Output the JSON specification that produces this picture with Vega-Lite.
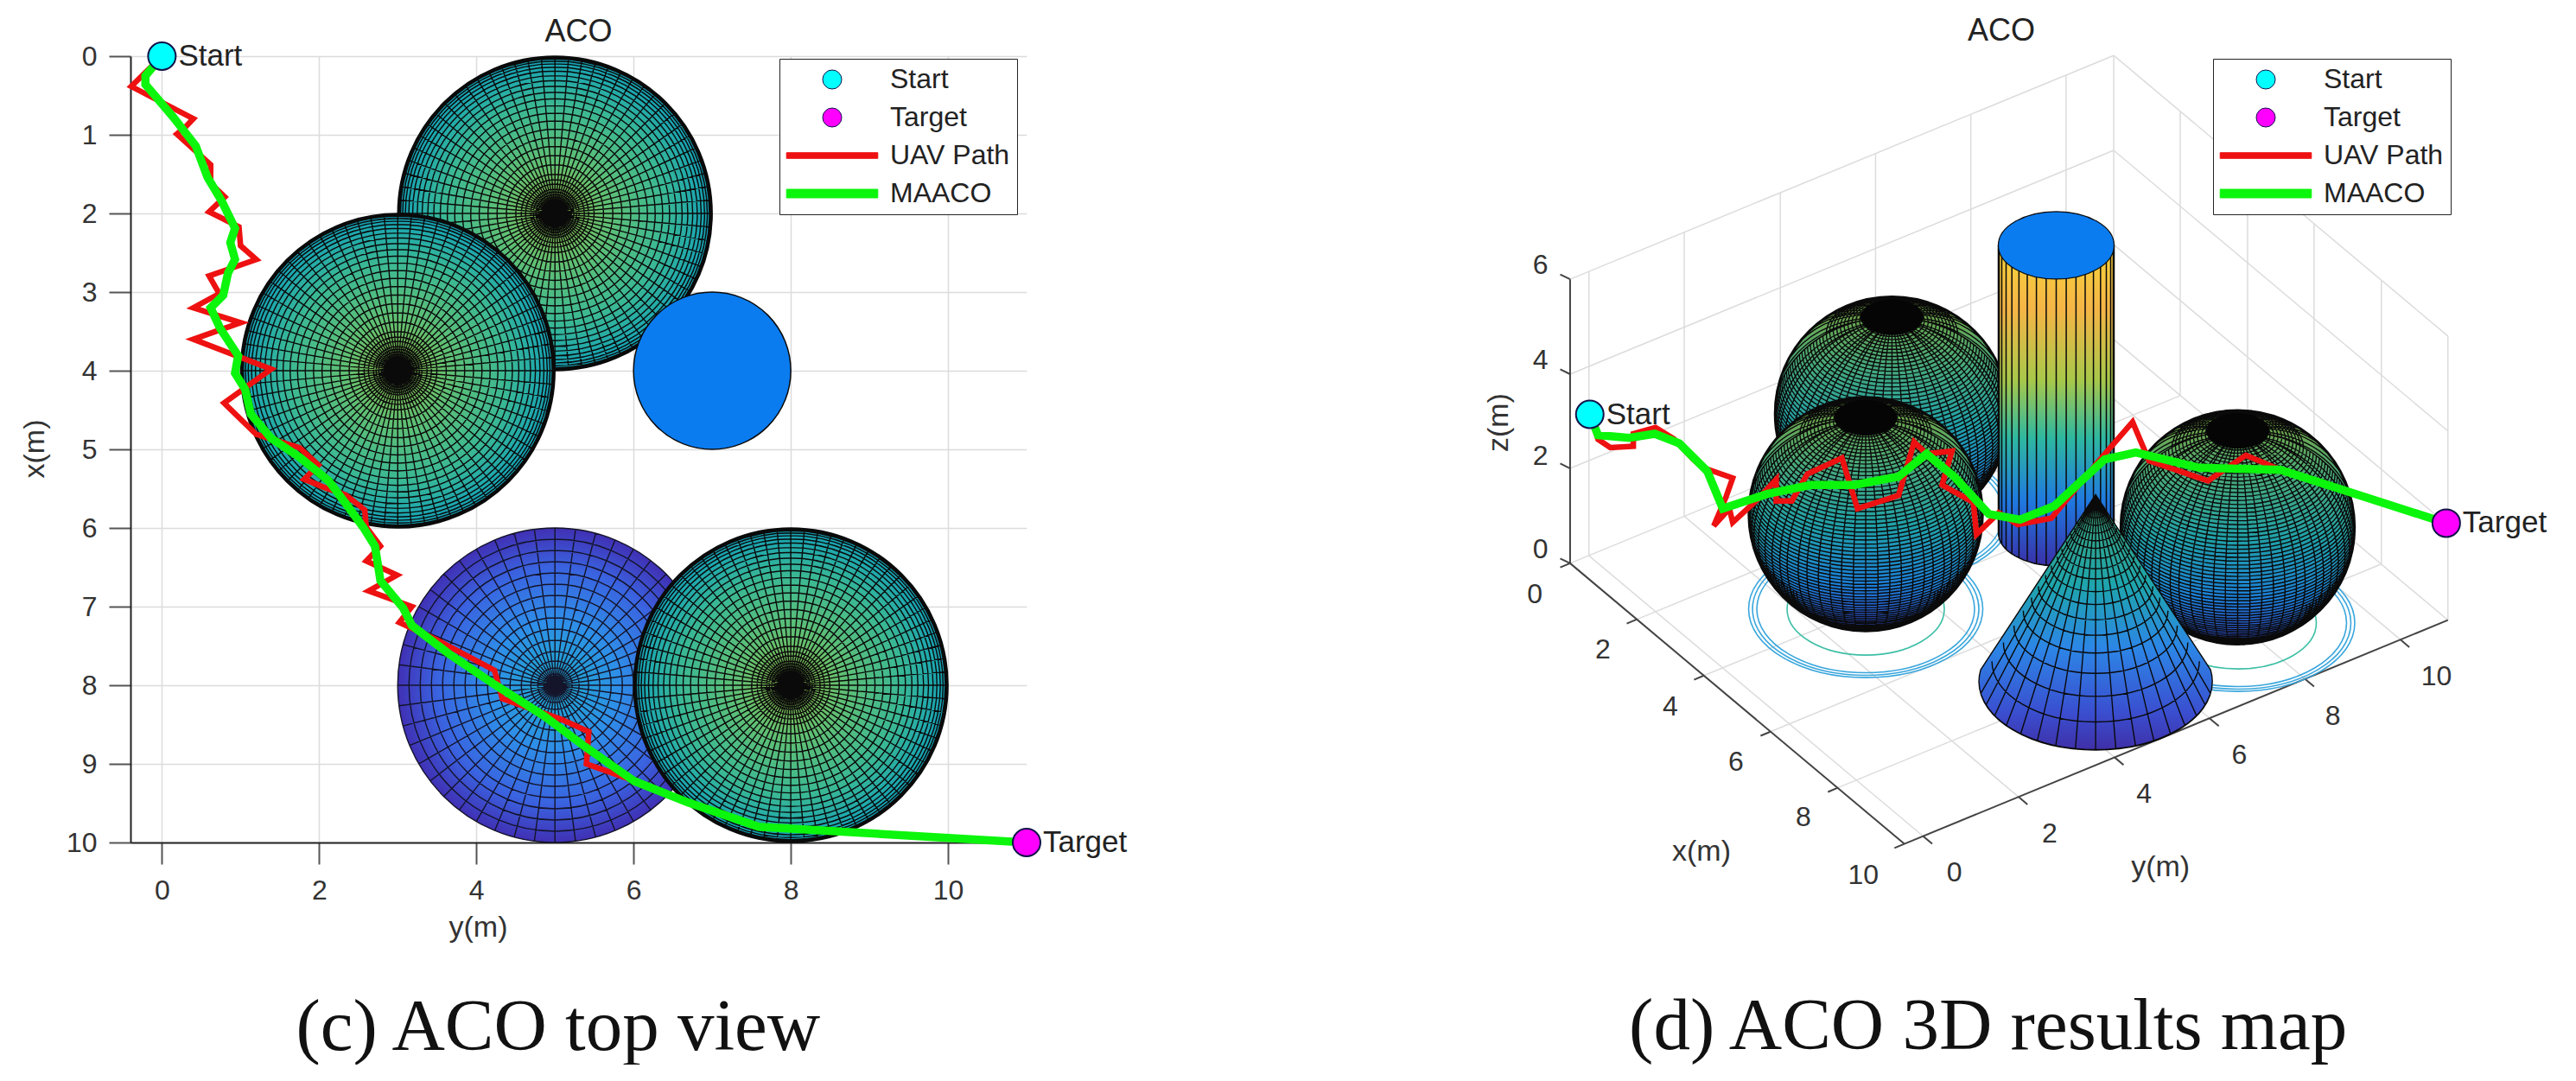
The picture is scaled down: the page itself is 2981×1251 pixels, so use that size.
{"$schema":"https://vega.github.io/schema/vega-lite/v6.json","background":"white","padding":{"left":23,"top":18,"right":0,"bottom":0},"spacing":303,"bounds":"flush","resolve":{"scale":{"color":"independent","stroke":"independent","shape":"independent"},"legend":{"color":"independent","stroke":"independent","shape":"independent"}},"config":{"view":{"stroke":null},"font":"Liberation Sans","legend":{"strokeColor":"#222222","fillColor":"white","padding":8,"symbolSize":484,"symbolStrokeWidth":1,"symbolOffset":37,"labelFont":"Liberation Sans","labelFontSize":32,"labelColor":"#222222","rowPadding":12,"labelOffset":51,"labelLimit":400},"title":{"font":"Liberation Sans","fontSize":36,"fontWeight":"normal","color":"#222222"}},"hconcat":[{"width":1037,"height":910,"title":{"text":"ACO","offset":-11},"encoding":{"x":{"field":"ym","type":"quantitative","scale":{"domain":[-0.4,11],"nice":false,"zero":false},"axis":{"title":"y(m)","values":[0,2,4,6,8,10],"grid":true,"gridColor":"#dcdcdc","gridWidth":1.5,"domainColor":"#222222","domainWidth":2,"tickColor":"#555555","tickWidth":2,"tickSize":25,"labelFont":"Liberation Sans","labelFontSize":32,"labelColor":"#333333","labelPadding":15,"labelAngle":0,"titleFont":"Liberation Sans","titleFontSize":34,"titleFontWeight":"normal","titleColor":"#333333","titleX":402,"titleY":98,"titleBaseline":"middle"}},"y":{"field":"xm","type":"quantitative","scale":{"domain":[0,10],"reverse":true,"nice":false,"zero":false},"axis":{"title":"x(m)","values":[0,1,2,3,4,5,6,7,8,9,10],"grid":true,"gridColor":"#dcdcdc","gridWidth":1.5,"domainColor":"#222222","domainWidth":2,"tickColor":"#555555","tickWidth":2,"tickSize":25,"labelFont":"Liberation Sans","labelFontSize":32,"labelColor":"#333333","labelPadding":14,"titleFont":"Liberation Sans","titleFontSize":34,"titleFontWeight":"normal","titleColor":"#333333","titleX":-111,"titleY":454,"titleBaseline":"middle"}}},"layer":[{"data":{"values":[{"ym":5,"xm":2},{"ym":3,"xm":4}]},"mark":{"type":"point","filled":true,"opacity":1,"size":40000,"fill":{"gradient":"radial","x1":0.5,"y1":0.5,"x2":0.5,"y2":0.5,"r1":0,"r2":0.5,"stops":[{"offset":0,"color":"#8fb53f"},{"offset":0.3,"color":"#63c070"},{"offset":0.7,"color":"#3ab894"},{"offset":1,"color":"#12a0b8"}]},"stroke":"#0a0a0a","strokeWidth":1.4,"shape":"M-1.82 0A1.82 1.82 0 1 1 1.82 0A1.82 1.82 0 1 1 -1.82 0M-1.816 0A1.816 1.816 0 1 1 1.816 0A1.816 1.816 0 1 1 -1.816 0M-1.806 0A1.806 1.806 0 1 1 1.806 0A1.806 1.806 0 1 1 -1.806 0M-1.797 0A1.797 1.797 0 1 1 1.797 0A1.797 1.797 0 1 1 -1.797 0M-1.788 0A1.788 1.788 0 1 1 1.788 0A1.788 1.788 0 1 1 -1.788 0M-1.763 0A1.763 1.763 0 1 1 1.763 0A1.763 1.763 0 1 1 -1.763 0M-1.731 0A1.731 1.731 0 1 1 1.731 0A1.731 1.731 0 1 1 -1.731 0M-1.692 0A1.692 1.692 0 1 1 1.692 0A1.692 1.692 0 1 1 -1.692 0M-1.647 0A1.647 1.647 0 1 1 1.647 0A1.647 1.647 0 1 1 -1.647 0M-1.594 0A1.594 1.594 0 1 1 1.594 0A1.594 1.594 0 1 1 -1.594 0M-1.537 0A1.537 1.537 0 1 1 1.537 0A1.537 1.537 0 1 1 -1.537 0M-1.472 0A1.472 1.472 0 1 1 1.472 0A1.472 1.472 0 1 1 -1.472 0M-1.402 0A1.402 1.402 0 1 1 1.402 0A1.402 1.402 0 1 1 -1.402 0M-1.327 0A1.327 1.327 0 1 1 1.327 0A1.327 1.327 0 1 1 -1.327 0M-1.246 0A1.246 1.246 0 1 1 1.246 0A1.246 1.246 0 1 1 -1.246 0M-1.16 0A1.16 1.16 0 1 1 1.16 0A1.16 1.16 0 1 1 -1.16 0M-1.07 0A1.07 1.07 0 1 1 1.07 0A1.07 1.07 0 1 1 -1.07 0M-0.975 0A0.975 0.975 0 1 1 0.975 0A0.975 0.975 0 1 1 -0.975 0M-0.877 0A0.877 0.877 0 1 1 0.877 0A0.877 0.877 0 1 1 -0.877 0M-0.775 0A0.775 0.775 0 1 1 0.775 0A0.775 0.775 0 1 1 -0.775 0M-0.67 0A0.67 0.67 0 1 1 0.67 0A0.67 0.67 0 1 1 -0.67 0M-0.562 0A0.562 0.562 0 1 1 0.562 0A0.562 0.562 0 1 1 -0.562 0M-0.453 0A0.453 0.453 0 1 1 0.453 0A0.453 0.453 0 1 1 -0.453 0M-0.39 0A0.39 0.39 0 1 1 0.39 0A0.39 0.39 0 1 1 -0.39 0M-0.34 0A0.34 0.34 0 1 1 0.34 0A0.34 0.34 0 1 1 -0.34 0M-0.28 0A0.28 0.28 0 1 1 0.28 0A0.28 0.28 0 1 1 -0.28 0M-0.25 0A0.25 0.25 0 1 1 0.25 0A0.25 0.25 0 1 1 -0.25 0M-0.22 0A0.22 0.22 0 1 1 0.22 0A0.22 0.22 0 1 1 -0.22 0M-0.19 0A0.19 0.19 0 1 1 0.19 0A0.19 0.19 0 1 1 -0.19 0M-0.16 0A0.16 0.16 0 1 1 0.16 0A0.16 0.16 0 1 1 -0.16 0M-0.13 0A0.13 0.13 0 1 1 0.13 0A0.13 0.13 0 1 1 -0.13 0M-0.1 0A0.1 0.1 0 1 1 0.1 0A0.1 0.1 0 1 1 -0.1 0M1.82 0L-1.82 0M1.813 0.159L-1.813 -0.159M1.792 0.316L-1.792 -0.316M1.758 0.471L-1.758 -0.471M1.71 0.622L-1.71 -0.622M1.649 0.769L-1.649 -0.769M1.576 0.91L-1.576 -0.91M1.491 1.044L-1.491 -1.044M1.394 1.17L-1.394 -1.17M1.287 1.287L-1.287 -1.287M1.17 1.394L-1.17 -1.394M1.044 1.491L-1.044 -1.491M0.91 1.576L-0.91 -1.576M0.769 1.649L-0.769 -1.649M0.622 1.71L-0.622 -1.71M0.471 1.758L-0.471 -1.758M0.316 1.792L-0.316 -1.792M0.159 1.813L-0.159 -1.813M0 1.82L0 -1.82M-0.159 1.813L0.159 -1.813M-0.316 1.792L0.316 -1.792M-0.471 1.758L0.471 -1.758M-0.622 1.71L0.622 -1.71M-0.769 1.649L0.769 -1.649M-0.91 1.576L0.91 -1.576M-1.044 1.491L1.044 -1.491M-1.17 1.394L1.17 -1.394M-1.287 1.287L1.287 -1.287M-1.394 1.17L1.394 -1.17M-1.491 1.044L1.491 -1.044M-1.576 0.91L1.576 -0.91M-1.649 0.769L1.649 -0.769M-1.71 0.622L1.71 -0.622M-1.758 0.471L1.758 -0.471M-1.792 0.316L1.792 -0.316M-1.813 0.159L1.813 -0.159"}},{"data":{"values":[{"ym":5,"xm":8}]},"mark":{"type":"point","filled":true,"opacity":1,"size":40000,"fill":{"gradient":"radial","x1":0.5,"y1":0.5,"x2":0.5,"y2":0.5,"r1":0,"r2":0.5,"stops":[{"offset":0,"color":"#1ea7c8"},{"offset":0.4,"color":"#2e8fe8"},{"offset":0.75,"color":"#3a63e0"},{"offset":1,"color":"#4030b4"}]},"stroke":"#14142a","strokeWidth":1.4,"shape":"M-1.82 0A1.82 1.82 0 1 1 1.82 0A1.82 1.82 0 1 1 -1.82 0M-1.69 0A1.69 1.69 0 1 1 1.69 0A1.69 1.69 0 1 1 -1.69 0M-1.56 0A1.56 1.56 0 1 1 1.56 0A1.56 1.56 0 1 1 -1.56 0M-1.43 0A1.43 1.43 0 1 1 1.43 0A1.43 1.43 0 1 1 -1.43 0M-1.3 0A1.3 1.3 0 1 1 1.3 0A1.3 1.3 0 1 1 -1.3 0M-1.17 0A1.17 1.17 0 1 1 1.17 0A1.17 1.17 0 1 1 -1.17 0M-1.04 0A1.04 1.04 0 1 1 1.04 0A1.04 1.04 0 1 1 -1.04 0M-0.91 0A0.91 0.91 0 1 1 0.91 0A0.91 0.91 0 1 1 -0.91 0M-0.78 0A0.78 0.78 0 1 1 0.78 0A0.78 0.78 0 1 1 -0.78 0M-0.65 0A0.65 0.65 0 1 1 0.65 0A0.65 0.65 0 1 1 -0.65 0M-0.52 0A0.52 0.52 0 1 1 0.52 0A0.52 0.52 0 1 1 -0.52 0M-0.39 0A0.39 0.39 0 1 1 0.39 0A0.39 0.39 0 1 1 -0.39 0M-0.28 0A0.28 0.28 0 1 1 0.28 0A0.28 0.28 0 1 1 -0.28 0M-0.2 0A0.2 0.2 0 1 1 0.2 0A0.2 0.2 0 1 1 -0.2 0M-0.13 0A0.13 0.13 0 1 1 0.13 0A0.13 0.13 0 1 1 -0.13 0M-0.07 0A0.07 0.07 0 1 1 0.07 0A0.07 0.07 0 1 1 -0.07 0M1.82 0L-1.82 0M1.804 0.238L-1.804 -0.238M1.758 0.471L-1.758 -0.471M1.681 0.696L-1.681 -0.696M1.576 0.91L-1.576 -0.91M1.444 1.108L-1.444 -1.108M1.287 1.287L-1.287 -1.287M1.108 1.444L-1.108 -1.444M0.91 1.576L-0.91 -1.576M0.696 1.681L-0.696 -1.681M0.471 1.758L-0.471 -1.758M0.238 1.804L-0.238 -1.804M0 1.82L0 -1.82M-0.238 1.804L0.238 -1.804M-0.471 1.758L0.471 -1.758M-0.696 1.681L0.696 -1.681M-0.91 1.576L0.91 -1.576M-1.108 1.444L1.108 -1.444M-1.287 1.287L1.287 -1.287M-1.444 1.108L1.444 -1.108M-1.576 0.91L1.576 -0.91M-1.681 0.696L1.681 -0.696M-1.758 0.471L1.758 -0.471M-1.804 0.238L1.804 -0.238"}},{"data":{"values":[{"ym":8,"xm":8}]},"mark":{"type":"point","filled":true,"opacity":1,"size":40000,"fill":{"gradient":"radial","x1":0.5,"y1":0.5,"x2":0.5,"y2":0.5,"r1":0,"r2":0.5,"stops":[{"offset":0,"color":"#8fb53f"},{"offset":0.3,"color":"#63c070"},{"offset":0.7,"color":"#3ab894"},{"offset":1,"color":"#12a0b8"}]},"stroke":"#0a0a0a","strokeWidth":1.4,"shape":"M-1.82 0A1.82 1.82 0 1 1 1.82 0A1.82 1.82 0 1 1 -1.82 0M-1.816 0A1.816 1.816 0 1 1 1.816 0A1.816 1.816 0 1 1 -1.816 0M-1.806 0A1.806 1.806 0 1 1 1.806 0A1.806 1.806 0 1 1 -1.806 0M-1.797 0A1.797 1.797 0 1 1 1.797 0A1.797 1.797 0 1 1 -1.797 0M-1.788 0A1.788 1.788 0 1 1 1.788 0A1.788 1.788 0 1 1 -1.788 0M-1.763 0A1.763 1.763 0 1 1 1.763 0A1.763 1.763 0 1 1 -1.763 0M-1.731 0A1.731 1.731 0 1 1 1.731 0A1.731 1.731 0 1 1 -1.731 0M-1.692 0A1.692 1.692 0 1 1 1.692 0A1.692 1.692 0 1 1 -1.692 0M-1.647 0A1.647 1.647 0 1 1 1.647 0A1.647 1.647 0 1 1 -1.647 0M-1.594 0A1.594 1.594 0 1 1 1.594 0A1.594 1.594 0 1 1 -1.594 0M-1.537 0A1.537 1.537 0 1 1 1.537 0A1.537 1.537 0 1 1 -1.537 0M-1.472 0A1.472 1.472 0 1 1 1.472 0A1.472 1.472 0 1 1 -1.472 0M-1.402 0A1.402 1.402 0 1 1 1.402 0A1.402 1.402 0 1 1 -1.402 0M-1.327 0A1.327 1.327 0 1 1 1.327 0A1.327 1.327 0 1 1 -1.327 0M-1.246 0A1.246 1.246 0 1 1 1.246 0A1.246 1.246 0 1 1 -1.246 0M-1.16 0A1.16 1.16 0 1 1 1.16 0A1.16 1.16 0 1 1 -1.16 0M-1.07 0A1.07 1.07 0 1 1 1.07 0A1.07 1.07 0 1 1 -1.07 0M-0.975 0A0.975 0.975 0 1 1 0.975 0A0.975 0.975 0 1 1 -0.975 0M-0.877 0A0.877 0.877 0 1 1 0.877 0A0.877 0.877 0 1 1 -0.877 0M-0.775 0A0.775 0.775 0 1 1 0.775 0A0.775 0.775 0 1 1 -0.775 0M-0.67 0A0.67 0.67 0 1 1 0.67 0A0.67 0.67 0 1 1 -0.67 0M-0.562 0A0.562 0.562 0 1 1 0.562 0A0.562 0.562 0 1 1 -0.562 0M-0.453 0A0.453 0.453 0 1 1 0.453 0A0.453 0.453 0 1 1 -0.453 0M-0.39 0A0.39 0.39 0 1 1 0.39 0A0.39 0.39 0 1 1 -0.39 0M-0.34 0A0.34 0.34 0 1 1 0.34 0A0.34 0.34 0 1 1 -0.34 0M-0.28 0A0.28 0.28 0 1 1 0.28 0A0.28 0.28 0 1 1 -0.28 0M-0.25 0A0.25 0.25 0 1 1 0.25 0A0.25 0.25 0 1 1 -0.25 0M-0.22 0A0.22 0.22 0 1 1 0.22 0A0.22 0.22 0 1 1 -0.22 0M-0.19 0A0.19 0.19 0 1 1 0.19 0A0.19 0.19 0 1 1 -0.19 0M-0.16 0A0.16 0.16 0 1 1 0.16 0A0.16 0.16 0 1 1 -0.16 0M-0.13 0A0.13 0.13 0 1 1 0.13 0A0.13 0.13 0 1 1 -0.13 0M-0.1 0A0.1 0.1 0 1 1 0.1 0A0.1 0.1 0 1 1 -0.1 0M1.82 0L-1.82 0M1.813 0.159L-1.813 -0.159M1.792 0.316L-1.792 -0.316M1.758 0.471L-1.758 -0.471M1.71 0.622L-1.71 -0.622M1.649 0.769L-1.649 -0.769M1.576 0.91L-1.576 -0.91M1.491 1.044L-1.491 -1.044M1.394 1.17L-1.394 -1.17M1.287 1.287L-1.287 -1.287M1.17 1.394L-1.17 -1.394M1.044 1.491L-1.044 -1.491M0.91 1.576L-0.91 -1.576M0.769 1.649L-0.769 -1.649M0.622 1.71L-0.622 -1.71M0.471 1.758L-0.471 -1.758M0.316 1.792L-0.316 -1.792M0.159 1.813L-0.159 -1.813M0 1.82L0 -1.82M-0.159 1.813L0.159 -1.813M-0.316 1.792L0.316 -1.792M-0.471 1.758L0.471 -1.758M-0.622 1.71L0.622 -1.71M-0.769 1.649L0.769 -1.649M-0.91 1.576L0.91 -1.576M-1.044 1.491L1.044 -1.491M-1.17 1.394L1.17 -1.394M-1.287 1.287L1.287 -1.287M-1.394 1.17L1.394 -1.17M-1.491 1.044L1.491 -1.044M-1.576 0.91L1.576 -0.91M-1.649 0.769L1.649 -0.769M-1.71 0.622L1.71 -0.622M-1.758 0.471L1.758 -0.471M-1.792 0.316L1.792 -0.316M-1.813 0.159L1.813 -0.159"}},{"data":{"values":[{"ym":7,"xm":4}]},"mark":{"type":"point","shape":"circle","filled":true,"opacity":1,"size":33124,"fill":"#0a7cf0","stroke":"#0a0a0a","strokeWidth":1.5}},{"data":{"values":[{"i":0,"ym":0,"xm":0},{"i":1,"ym":-0.39,"xm":0.385},{"i":2,"ym":0.4,"xm":0.795},{"i":3,"ym":0.3,"xm":0.9},{"i":4,"ym":0.19,"xm":0.99},{"i":5,"ym":0.62,"xm":1.38},{"i":6,"ym":0.62,"xm":1.62},{"i":7,"ym":0.8,"xm":1.79},{"i":8,"ym":0.6,"xm":1.98},{"i":9,"ym":0.98,"xm":2.17},{"i":10,"ym":1,"xm":2.41},{"i":11,"ym":1.2,"xm":2.585},{"i":12,"ym":0.6,"xm":2.795},{"i":13,"ym":0.73,"xm":3.02},{"i":14,"ym":0.4,"xm":3.2},{"i":15,"ym":1,"xm":3.39},{"i":16,"ym":0.4,"xm":3.6},{"i":17,"ym":1.39,"xm":3.98},{"i":18,"ym":0.79,"xm":4.41},{"i":19,"ym":1.2,"xm":4.81},{"i":20,"ym":1.75,"xm":4.98},{"i":21,"ym":1.99,"xm":5.2},{"i":22,"ym":1.81,"xm":5.38},{"i":23,"ym":2.08,"xm":5.49},{"i":24,"ym":2.34,"xm":5.58},{"i":25,"ym":2.58,"xm":5.77},{"i":26,"ym":2.6,"xm":5.99},{"i":27,"ym":2.78,"xm":6.23},{"i":28,"ym":2.6,"xm":6.42},{"i":29,"ym":2.99,"xm":6.6},{"i":30,"ym":2.63,"xm":6.8},{"i":31,"ym":3.18,"xm":7},{"i":32,"ym":3.02,"xm":7.2},{"i":33,"ym":3.49,"xm":7.42},{"i":34,"ym":4.23,"xm":7.81},{"i":35,"ym":4.33,"xm":8.17},{"i":36,"ym":5.07,"xm":8.43},{"i":37,"ym":5.43,"xm":8.59},{"i":38,"ym":5.4,"xm":9},{"i":39,"ym":5.91,"xm":9.18},{"i":40,"ym":6.69,"xm":9.49},{"i":41,"ym":7.59,"xm":9.8},{"i":42,"ym":11,"xm":10}]},"mark":{"type":"line","color":"#ee1111","strokeWidth":6.5},"encoding":{"order":{"field":"i","type":"quantitative"}}},{"data":{"values":[{"i":0,"ym":0,"xm":0},{"i":1,"ym":-0.21,"xm":0.25},{"i":2,"ym":-0.21,"xm":0.36},{"i":3,"ym":0.14,"xm":0.77},{"i":4,"ym":0.43,"xm":1.14},{"i":5,"ym":0.58,"xm":1.54},{"i":6,"ym":0.76,"xm":1.84},{"i":7,"ym":0.93,"xm":2.19},{"i":8,"ym":0.87,"xm":2.37},{"i":9,"ym":0.93,"xm":2.585},{"i":10,"ym":0.84,"xm":2.76},{"i":11,"ym":0.78,"xm":3.04},{"i":12,"ym":0.62,"xm":3.2},{"i":13,"ym":0.74,"xm":3.46},{"i":14,"ym":0.97,"xm":3.81},{"i":15,"ym":0.93,"xm":4.03},{"i":16,"ym":1.06,"xm":4.24},{"i":17,"ym":1.13,"xm":4.55},{"i":18,"ym":1.39,"xm":4.86},{"i":19,"ym":1.75,"xm":5.1},{"i":20,"ym":2.12,"xm":5.4},{"i":21,"ym":2.34,"xm":5.69},{"i":22,"ym":2.56,"xm":5.99},{"i":23,"ym":2.71,"xm":6.23},{"i":24,"ym":2.78,"xm":6.67},{"i":25,"ym":3.07,"xm":7.02},{"i":26,"ym":3.18,"xm":7.24},{"i":27,"ym":3.65,"xm":7.6},{"i":28,"ym":4.23,"xm":7.99},{"i":29,"ym":4.86,"xm":8.39},{"i":30,"ym":5.38,"xm":8.78},{"i":31,"ym":6.01,"xm":9.22},{"i":32,"ym":6.69,"xm":9.49},{"i":33,"ym":7.59,"xm":9.8},{"i":34,"ym":11,"xm":10}]},"mark":{"type":"line","color":"#0cf50c","strokeWidth":9.5},"encoding":{"order":{"field":"i","type":"quantitative"}}},{"data":{"values":[{"ym":0,"xm":0,"series":"Start"},{"ym":11,"xm":10,"series":"Target"}]},"layer":[{"mark":{"type":"point","filled":true,"opacity":1,"size":1024},"encoding":{"color":{"field":"series","type":"nominal","scale":{"domain":["Start","Target","UAV Path","MAACO"],"range":["#00ffff","#ff00ff","#ee1111","#0cf50c"]},"legend":{"title":null,"orient":"none","legendX":751,"legendY":3}},"stroke":{"field":"series","type":"nominal","scale":{"domain":["Start","Target","UAV Path","MAACO"],"range":["#12124a","#12124a","#ee1111","#0cf50c"]},"legend":{"title":null,"orient":"none","legendX":751,"legendY":3}},"shape":{"field":"series","type":"nominal","scale":{"domain":["Start","Target","UAV Path","MAACO"],"range":["circle","circle","M-4.8 -0.3L4.8 -0.3L4.8 0.3L-4.8 0.3Z","M-4.8 -0.45L4.8 -0.45L4.8 0.45L-4.8 0.45Z"]},"legend":{"title":null,"orient":"none","legendX":751,"legendY":3}}}},{"mark":{"type":"text","align":"left","baseline":"middle","dx":19,"fontSize":35,"font":"Liberation Sans","color":"#222222"},"encoding":{"text":{"field":"series"}}}]},{"data":{"values":[{"ym":5.04,"xm":12.35,"caption":"(c) ACO top view"}]},"mark":{"type":"text","font":"Liberation Serif","fontSize":85,"color":"#111111","align":"center","baseline":"middle"},"encoding":{"text":{"field":"caption"}}}]},{"width":1490,"height":910,"title":{"text":"ACO","offset":8,"dx":80},"encoding":{"x":{"field":"u","type":"quantitative","scale":{"domain":[0,1568],"nice":false,"zero":false},"axis":null},"y":{"field":"v","type":"quantitative","scale":{"domain":[83,1218],"reverse":true,"nice":false,"zero":false},"axis":null}},"layer":[{"data":{"values":[{"u":366,"v":804,"u2":773,"v2":1209},{"u":482,"v":747,"u2":889,"v2":1152},{"u":599,"v":690,"u2":1006,"v2":1095},{"u":715,"v":634,"u2":1122,"v2":1039},{"u":831,"v":577,"u2":1238,"v2":982},{"u":947,"v":520,"u2":1354,"v2":925},{"u":1005,"v":492,"u2":1412,"v2":897},{"u":343,"v":815,"u2":1005,"v2":492},{"u":424,"v":896,"u2":1086,"v2":573},{"u":506,"v":977,"u2":1168,"v2":654},{"u":587,"v":1058,"u2":1249,"v2":735},{"u":669,"v":1139,"u2":1331,"v2":816},{"u":366,"v":804,"u2":366,"v2":394},{"u":482,"v":747,"u2":482,"v2":337},{"u":599,"v":690,"u2":599,"v2":280},{"u":715,"v":634,"u2":715,"v2":224},{"u":831,"v":577,"u2":831,"v2":167},{"u":947,"v":520,"u2":947,"v2":110},{"u":1005,"v":492,"u2":1005,"v2":82},{"u":343,"v":678,"u2":1005,"v2":355},{"u":343,"v":542,"u2":1005,"v2":219},{"u":343,"v":405,"u2":1005,"v2":82},{"u":1086,"v":573,"u2":1086,"v2":163},{"u":1168,"v":654,"u2":1168,"v2":244},{"u":1249,"v":735,"u2":1249,"v2":325},{"u":1331,"v":816,"u2":1331,"v2":406},{"u":1412,"v":897,"u2":1412,"v2":487},{"u":1005,"v":355,"u2":1412,"v2":760},{"u":1005,"v":219,"u2":1412,"v2":624},{"u":1005,"v":82,"u2":1412,"v2":487}]},"mark":{"type":"rule","color":"#dcdcdc","strokeWidth":1.5},"encoding":{"x2":{"field":"u2"},"y2":{"field":"v2"}}},{"data":{"values":[{"u":343,"v":405,"u2":343,"v2":815},{"u":343,"v":815,"u2":750,"v2":1220},{"u":750,"v":1220,"u2":1412,"v2":897},{"u":343,"v":405,"u2":331,"v2":398},{"u":343,"v":542,"u2":331,"v2":535},{"u":343,"v":678,"u2":331,"v2":671},{"u":343,"v":815,"u2":331,"v2":808},{"u":343,"v":815,"u2":331,"v2":821},{"u":424,"v":896,"u2":412,"v2":902},{"u":506,"v":977,"u2":494,"v2":983},{"u":587,"v":1058,"u2":575,"v2":1064},{"u":669,"v":1139,"u2":657,"v2":1145},{"u":750,"v":1220,"u2":738,"v2":1226},{"u":773,"v":1209,"u2":784,"v2":1220},{"u":889,"v":1152,"u2":900,"v2":1163},{"u":1006,"v":1095,"u2":1017,"v2":1106},{"u":1122,"v":1039,"u2":1133,"v2":1050},{"u":1238,"v":982,"u2":1249,"v2":993},{"u":1354,"v":925,"u2":1365,"v2":936}]},"mark":{"type":"rule","color":"#444444","strokeWidth":2},"encoding":{"x2":{"field":"u2"},"y2":{"field":"v2"}}},{"data":{"values":[{"u":703,"v":881},{"u":738,"v":743},{"u":1156,"v":901}]},"mark":{"type":"point","filled":false,"opacity":1,"size":40000,"stroke":"#3aa6dc","strokeWidth":1.6,"shape":"M-1.355 0A1.355 0.793 0 1 1 1.355 0A1.355 0.793 0 1 1 -1.355 0M-1.31 0A1.31 0.767 0 1 1 1.31 0A1.31 0.767 0 1 1 -1.31 0M-1.26 0A1.26 0.737 0 1 1 1.26 0A1.26 0.737 0 1 1 -1.26 0"}},{"data":{"values":[{"u":703,"v":881},{"u":738,"v":743},{"u":1156,"v":901}]},"mark":{"type":"point","filled":false,"opacity":1,"size":40000,"stroke":"#3dbfa6","strokeWidth":1.6,"shape":"M-0.91 0A0.91 0.533 0 1 1 0.91 0A0.91 0.533 0 1 1 -0.91 0"}},{"data":{"values":[{"u":735,"v":599},{"u":703,"v":744},{"u":1156,"v":763}]},"mark":{"type":"point","filled":true,"opacity":1,"size":40000,"fill":{"gradient":"linear","x1":0,"y1":0,"x2":0,"y2":1,"stops":[{"offset":0,"color":"#7ea83c"},{"offset":0.3,"color":"#46a97c"},{"offset":0.55,"color":"#20a0a8"},{"offset":0.8,"color":"#1c7fd8"},{"offset":1,"color":"#3040c0"}]},"stroke":"#0a0a0a","strokeWidth":1.4,"shape":"M-1.36 0A1.36 1.36 0 1 1 1.36 0A1.36 1.36 0 1 1 -1.36 0M-1.345 0A1.345 1.345 0 1 1 1.345 0A1.345 1.345 0 1 1 -1.345 0M0.8 0.902A0.8 0.456 0 0 1 -0.8 0.902M0.837 0.879A0.837 0.477 0 0 1 -0.837 0.879M0.874 0.854A0.874 0.498 0 0 1 -0.874 0.854M0.91 0.829A0.91 0.519 0 0 1 -0.91 0.829M0.945 0.802A0.945 0.539 0 0 1 -0.945 0.802M0.978 0.775A0.978 0.557 0 0 1 -0.978 0.775M1.011 0.746A1.011 0.576 0 0 1 -1.011 0.746M1.042 0.717A1.042 0.594 0 0 1 -1.042 0.717M1.072 0.687A1.072 0.611 0 0 1 -1.072 0.687M1.1 0.656A1.1 0.627 0 0 1 -1.1 0.656M1.127 0.623A1.127 0.642 0 0 1 -1.127 0.623M1.153 0.591A1.153 0.657 0 0 1 -1.153 0.591M1.178 0.558A1.178 0.671 0 0 1 -1.178 0.558M1.201 0.523A1.201 0.684 0 0 1 -1.201 0.523M1.222 0.489A1.222 0.697 0 0 1 -1.222 0.489M1.243 0.454A1.243 0.708 0 0 1 -1.243 0.454M1.261 0.418A1.261 0.718 0 0 1 -1.261 0.418M1.278 0.381A1.278 0.729 0 0 1 -1.278 0.381M1.293 0.345A1.293 0.737 0 0 1 -1.293 0.345M1.307 0.308A1.307 0.745 0 0 1 -1.307 0.308M1.32 0.27A1.32 0.752 0 0 1 -1.32 0.27M1.33 0.232A1.33 0.758 0 0 1 -1.33 0.232M1.339 0.194A1.339 0.763 0 0 1 -1.339 0.194M1.346 0.155A1.346 0.767 0 0 1 -1.346 0.155M1.353 0.117A1.353 0.771 0 0 1 -1.353 0.117M1.357 0.078A1.357 0.773 0 0 1 -1.357 0.078M1.359 0.039A1.359 0.774 0 0 1 -1.359 0.039M1.36 0A1.36 0.775 0 0 1 -1.36 0M1.359 -0.039A1.359 0.774 0 0 1 -1.359 -0.039M1.357 -0.078A1.357 0.773 0 0 1 -1.357 -0.078M1.353 -0.117A1.353 0.771 0 0 1 -1.353 -0.117M1.346 -0.155A1.346 0.767 0 0 1 -1.346 -0.155M1.339 -0.194A1.339 0.763 0 0 1 -1.339 -0.194M1.33 -0.232A1.33 0.758 0 0 1 -1.33 -0.232M1.32 -0.27A1.32 0.752 0 0 1 -1.32 -0.27M1.307 -0.308A1.307 0.745 0 0 1 -1.307 -0.308M1.293 -0.345A1.293 0.737 0 0 1 -1.293 -0.345M1.278 -0.381A1.278 0.729 0 0 1 -1.278 -0.381M1.261 -0.418A1.261 0.718 0 0 1 -1.261 -0.418M1.243 -0.454A1.243 0.708 0 0 1 -1.243 -0.454M1.222 -0.489A1.222 0.697 0 0 1 -1.222 -0.489M1.201 -0.523A1.201 0.684 0 0 1 -1.201 -0.523M1.178 -0.558A1.178 0.671 0 0 1 -1.178 -0.558M1.153 -0.591A1.153 0.657 0 0 1 -1.153 -0.591M1.127 -0.623A1.127 0.642 0 0 1 -1.127 -0.623M1.1 -0.656A1.1 0.627 0 0 1 -1.1 -0.656M1.072 -0.687A1.072 0.611 0 0 1 -1.072 -0.687M1.042 -0.717A1.042 0.594 0 0 1 -1.042 -0.717M1.011 -0.746A1.011 0.576 0 0 1 -1.011 -0.746M0.978 -0.775A0.978 0.557 0 0 1 -0.978 -0.775M0.945 -0.802A0.945 0.539 0 0 1 -0.945 -0.802M0.91 -0.829A0.91 0.519 0 0 1 -0.91 -0.829M0.874 -0.854A0.874 0.498 0 0 1 -0.874 -0.854M0.837 -0.879A0.837 0.477 0 0 1 -0.837 -0.879M0.8 -0.902A0.8 0.456 0 0 1 -0.8 -0.902M0.76 -0.924A0.76 0.433 0 1 1 -0.76 -0.924A0.76 0.433 0 1 1 0.76 -0.924M0.721 -0.946A0.721 0.411 0 1 1 -0.721 -0.946A0.721 0.411 0 1 1 0.721 -0.946M0.68 -0.966A0.68 0.388 0 1 1 -0.68 -0.966A0.68 0.388 0 1 1 0.68 -0.966M0.638 -0.985A0.638 0.364 0 1 1 -0.638 -0.985A0.638 0.364 0 1 1 0.638 -0.985M0.596 -1.002A0.596 0.34 0 1 1 -0.596 -1.002A0.596 0.34 0 1 1 0.596 -1.002M0.553 -1.019A0.553 0.315 0 1 1 -0.553 -1.019A0.553 0.315 0 1 1 0.553 -1.019M0.51 -1.034A0.51 0.29 0 1 1 -0.51 -1.034A0.51 0.29 0 1 1 0.51 -1.034M0.465 -1.048A0.465 0.265 0 1 1 -0.465 -1.048A0.465 0.265 0 1 1 0.465 -1.048M0.42 -1.06A0.42 0.239 0 1 1 -0.42 -1.06A0.42 0.239 0 1 1 0.42 -1.06M0.375 -1.072A0.375 0.214 0 1 1 -0.375 -1.072A0.375 0.214 0 1 1 0.375 -1.072M0.329 -1.082A0.329 0.188 0 1 1 -0.329 -1.082A0.329 0.188 0 1 1 0.329 -1.082M0 -1.36L0 1.36M-0.081 -1.358A1.36 0.117 86.57 0 1 0.081 1.358M-0.164 -1.35A1.36 0.232 83.09 0 1 0.164 1.35M-0.248 -1.337A1.36 0.345 79.5 0 1 0.248 1.337M-0.335 -1.318A1.36 0.454 75.76 0 1 0.335 1.318M-0.425 -1.292A1.36 0.558 71.78 0 1 0.425 1.292M-0.52 -1.256A1.36 0.656 67.5 0 1 0.52 1.256M-0.621 -1.21A1.36 0.746 62.83 0 1 0.621 1.21M-0.727 -1.149A1.36 0.829 57.67 0 1 0.727 1.149M-0.839 -1.07A1.36 0.902 51.9 0 1 0.839 1.07M-0.955 -0.968A1.36 0.966 45.37 0 1 0.955 0.968M-1.072 -0.837A1.36 1.019 37.99 0 1 1.072 0.837M-1.182 -0.673A1.36 1.061 29.68 0 1 1.182 0.673M-1.274 -0.475A1.36 1.091 20.45 0 1 1.274 0.475M-1.337 -0.247A1.36 1.109 10.45 0 1 1.337 0.247M-1.36 0A1.36 1.115 0 0 1 1.36 0M-0.081 1.358A1.36 0.117 -86.57 0 1 0.081 -1.358M-0.164 1.35A1.36 0.232 -83.09 0 1 0.164 -1.35M-0.248 1.337A1.36 0.345 -79.5 0 1 0.248 -1.337M-0.335 1.318A1.36 0.454 -75.76 0 1 0.335 -1.318M-0.425 1.292A1.36 0.558 -71.78 0 1 0.425 -1.292M-0.52 1.256A1.36 0.656 -67.5 0 1 0.52 -1.256M-0.621 1.21A1.36 0.746 -62.83 0 1 0.621 -1.21M-0.727 1.149A1.36 0.829 -57.67 0 1 0.727 -1.149M-0.839 1.07A1.36 0.902 -51.9 0 1 0.839 -1.07M-0.955 0.968A1.36 0.966 -45.37 0 1 0.955 -0.968M-1.072 0.837A1.36 1.019 -37.99 0 1 1.072 -0.837M-1.182 0.673A1.36 1.061 -29.68 0 1 1.182 -0.673M-1.274 0.475A1.36 1.091 -20.45 0 1 1.274 -0.475M-1.337 0.247A1.36 1.109 -10.45 0 1 1.337 -0.247"}},{"data":{"values":[{"u":735,"v":599},{"u":703,"v":744},{"u":1156,"v":763}]},"mark":{"type":"point","filled":true,"opacity":1,"size":40000,"fill":"#050505","stroke":"#050505","strokeWidth":1,"shape":"M-0.36 -1.115A0.36 0.2 0 1 1 0.36 -1.115A0.36 0.2 0 1 1 -0.36 -1.115"}},{"data":{"values":[{"u":935,"v":356}]},"mark":{"type":"point","filled":true,"opacity":1,"size":40000,"fill":{"gradient":"linear","x1":0,"y1":0,"x2":0,"y2":1,"stops":[{"offset":0,"color":"#f7d53a"},{"offset":0.2,"color":"#f5b546"},{"offset":0.42,"color":"#a8c84a"},{"offset":0.6,"color":"#2eb8a0"},{"offset":0.8,"color":"#1f78e0"},{"offset":1,"color":"#3a2fa8"}]},"stroke":"#0a0a0a","strokeWidth":1.5,"shape":"M-0.67 0L-0.67 3.32A0.67 0.39 0 0 0 0.67 3.32L0.67 0ZM0.67 0L0.67 3.32M0.66 0.068L0.66 3.388M0.63 0.133L0.63 3.453M0.58 0.195L0.58 3.515M0.513 0.251L0.513 3.571M0.431 0.299L0.431 3.619M0.335 0.338L0.335 3.658M0.229 0.366L0.229 3.686M0.116 0.384L0.116 3.704M0 0.39L0 3.71M-0.116 0.384L-0.116 3.704M-0.229 0.366L-0.229 3.686M-0.335 0.338L-0.335 3.658M-0.431 0.299L-0.431 3.619M-0.513 0.251L-0.513 3.571M-0.58 0.195L-0.58 3.515M-0.63 0.133L-0.63 3.453M-0.66 0.068L-0.66 3.388"}},{"data":{"values":[{"u":935,"v":356}]},"mark":{"type":"point","filled":true,"opacity":1,"size":40000,"fill":"#0a7cf0","stroke":"#0a0a0a","strokeWidth":1.2,"shape":"M-0.67 0A0.67 0.39 0 1 1 0.67 0A0.67 0.39 0 1 1 -0.67 0"}},{"data":{"values":[{"u":983,"v":986}]},"mark":{"type":"point","filled":true,"opacity":1,"size":40000,"fill":{"gradient":"linear","x1":0,"y1":0,"x2":0,"y2":1,"stops":[{"offset":0,"color":"#3d9e6e"},{"offset":0.35,"color":"#1ea5ac"},{"offset":0.6,"color":"#2c86e6"},{"offset":0.85,"color":"#3a4fd0"},{"offset":1,"color":"#3f2fa8"}]},"stroke":"#0a0a0a","strokeWidth":1.4,"shape":"M0 -2.165L-1.33 -0.14A1.35 0.79 0 1 0 1.33 -0.14ZM-1.35 0A1.35 0.79 0 0 0 1.35 0M-1.2 -0.238A1.2 0.703 0 0 0 1.2 -0.238M-1.067 -0.455A1.067 0.624 0 0 0 1.067 -0.455M-0.945 -0.65A0.945 0.553 0 0 0 0.945 -0.65M-0.837 -0.823A0.837 0.49 0 0 0 0.837 -0.823M-0.743 -0.974A0.743 0.435 0 0 0 0.743 -0.974M-0.662 -1.104A0.662 0.387 0 0 0 0.662 -1.104M-0.58 -1.234A0.58 0.34 0 0 0 0.58 -1.234M-0.513 -1.342A0.513 0.3 0 0 0 0.513 -1.342M-0.446 -1.451A0.446 0.261 0 0 0 0.446 -1.451M-0.392 -1.537A0.392 0.229 0 0 0 0.392 -1.537M-0.338 -1.624A0.338 0.198 0 0 0 0.338 -1.624M-0.284 -1.71A0.284 0.166 0 0 0 0.284 -1.71M-0.243 -1.775A0.243 0.142 0 0 0 0.243 -1.775M-0.203 -1.84A0.203 0.119 0 0 0 0.203 -1.84M-0.162 -1.905A0.162 0.095 0 0 0 0.162 -1.905M-0.122 -1.97A0.122 0.071 0 0 0 0.122 -1.97M-0.081 -2.035A0.081 0.047 0 0 0 0.081 -2.035M0 -2.165L1.33 0.137M0 -2.165L1.269 0.27M0 -2.165L1.169 0.395M0 -2.165L1.034 0.508M0 -2.165L0.868 0.605M0 -2.165L0.675 0.684M0 -2.165L0.462 0.742M0 -2.165L0.234 0.778M0 -2.165L0 0.79M0 -2.165L-0.234 0.778M0 -2.165L-0.462 0.742M0 -2.165L-0.675 0.684M0 -2.165L-0.868 0.605M0 -2.165L-1.034 0.508M0 -2.165L-1.169 0.395M0 -2.165L-1.269 0.27M0 -2.165L-1.33 0.137"}},{"data":{"values":[{"i":0,"u":367,"v":600},{"i":1,"u":377,"v":636},{"i":2,"u":392,"v":648},{"i":3,"u":420,"v":646},{"i":4,"u":420,"v":628},{"i":5,"u":447,"v":619},{"i":6,"u":470,"v":636},{"i":7,"u":493,"v":665},{"i":8,"u":505,"v":677},{"i":9,"u":541,"v":692},{"i":10,"u":533,"v":719},{"i":11,"u":518,"v":761},{"i":12,"u":537,"v":736},{"i":13,"u":541,"v":756},{"i":14,"u":571,"v":723},{"i":15,"u":594,"v":694},{"i":16,"u":594,"v":725},{"i":17,"u":613,"v":725},{"i":18,"u":632,"v":686},{"i":19,"u":674,"v":663},{"i":20,"u":693,"v":736},{"i":21,"u":743,"v":717},{"i":22,"u":762,"v":640},{"i":23,"u":777,"v":657},{"i":24,"u":808,"v":653},{"i":25,"u":796,"v":702},{"i":26,"u":834,"v":727},{"i":27,"u":838,"v":773},{"i":28,"u":865,"v":742},{"i":29,"u":888,"v":759},{"i":30,"u":929,"v":750},{"i":31,"u":987,"v":667},{"i":32,"u":1028,"v":611},{"i":33,"u":1048,"v":667},{"i":34,"u":1120,"v":696},{"i":35,"u":1166,"v":659},{"i":36,"u":1208,"v":680},{"i":37,"u":1410,"v":757}]},"mark":{"type":"line","color":"#ee1111","strokeWidth":6.5},"encoding":{"order":{"field":"i","type":"quantitative"}}},{"data":{"values":[{"i":0,"u":367,"v":600},{"i":1,"u":377,"v":630},{"i":2,"u":415,"v":634},{"i":3,"u":446,"v":628},{"i":4,"u":476,"v":642},{"i":5,"u":510,"v":682},{"i":6,"u":529,"v":736},{"i":7,"u":583,"v":715},{"i":8,"u":636,"v":702},{"i":9,"u":689,"v":702},{"i":10,"u":743,"v":690},{"i":11,"u":777,"v":657},{"i":12,"u":811,"v":690},{"i":13,"u":853,"v":744},{"i":14,"u":891,"v":752},{"i":15,"u":933,"v":732},{"i":16,"u":994,"v":665},{"i":17,"u":1032,"v":655},{"i":18,"u":1109,"v":677},{"i":19,"u":1208,"v":680},{"i":20,"u":1410,"v":757}]},"mark":{"type":"line","color":"#0cf50c","strokeWidth":9.5},"encoding":{"order":{"field":"i","type":"quantitative"}}},{"data":{"values":[{"u":367,"v":600,"series":"Start"},{"u":1410,"v":757,"series":"Target"}]},"layer":[{"mark":{"type":"point","filled":true,"opacity":1,"size":1024},"encoding":{"color":{"field":"series","type":"nominal","scale":{"domain":["Start","Target","UAV Path","MAACO"],"range":["#00ffff","#ff00ff","#ee1111","#0cf50c"]},"legend":{"title":null,"orient":"none","legendX":1070,"legendY":3}},"stroke":{"field":"series","type":"nominal","scale":{"domain":["Start","Target","UAV Path","MAACO"],"range":["#12124a","#12124a","#ee1111","#0cf50c"]},"legend":{"title":null,"orient":"none","legendX":1070,"legendY":3}},"shape":{"field":"series","type":"nominal","scale":{"domain":["Start","Target","UAV Path","MAACO"],"range":["circle","circle","M-4.8 -0.3L4.8 -0.3L4.8 0.3L-4.8 0.3Z","M-4.8 -0.45L4.8 -0.45L4.8 0.45L-4.8 0.45Z"]},"legend":{"title":null,"orient":"none","legendX":1070,"legendY":3}}}},{"mark":{"type":"text","align":"left","baseline":"middle","dx":19,"fontSize":35,"font":"Liberation Sans","color":"#222222"},"encoding":{"text":{"field":"series"}}}]},{"data":{"values":[{"u":307,"v":385,"t":"6"},{"u":307,"v":522,"t":"4"},{"u":307,"v":660,"t":"2"},{"u":307,"v":795,"t":"0"},{"u":300,"v":860,"t":"0"},{"u":383,"v":940,"t":"2"},{"u":465,"v":1022,"t":"4"},{"u":545,"v":1102,"t":"6"},{"u":627,"v":1182,"t":"8"},{"u":700,"v":1265,"t":"10"},{"u":811,"v":1262,"t":"0"},{"u":927,"v":1205,"t":"2"},{"u":1042,"v":1148,"t":"4"},{"u":1158,"v":1092,"t":"6"},{"u":1272,"v":1036,"t":"8"},{"u":1398,"v":978,"t":"10"}]},"mark":{"type":"text","fontSize":32,"font":"Liberation Sans","color":"#333333","align":"center","baseline":"middle"},"encoding":{"text":{"field":"t"}}},{"data":{"values":[{"u":503,"v":1232,"t":"x(m)"},{"u":1062,"v":1254,"t":"y(m)"}]},"mark":{"type":"text","fontSize":34,"font":"Liberation Sans","color":"#333333","align":"center","baseline":"middle"},"encoding":{"text":{"field":"t"}}},{"data":{"values":[{"u":257,"v":612,"t":"z(m)"}]},"mark":{"type":"text","fontSize":34,"font":"Liberation Sans","color":"#333333","align":"center","baseline":"middle","angle":270},"encoding":{"text":{"field":"t"}}},{"data":{"values":[{"u":852,"v":1484,"caption":"(d) ACO 3D results map"}]},"mark":{"type":"text","font":"Liberation Serif","fontSize":85,"color":"#111111","align":"center","baseline":"middle"},"encoding":{"text":{"field":"caption"}}}]}]}
